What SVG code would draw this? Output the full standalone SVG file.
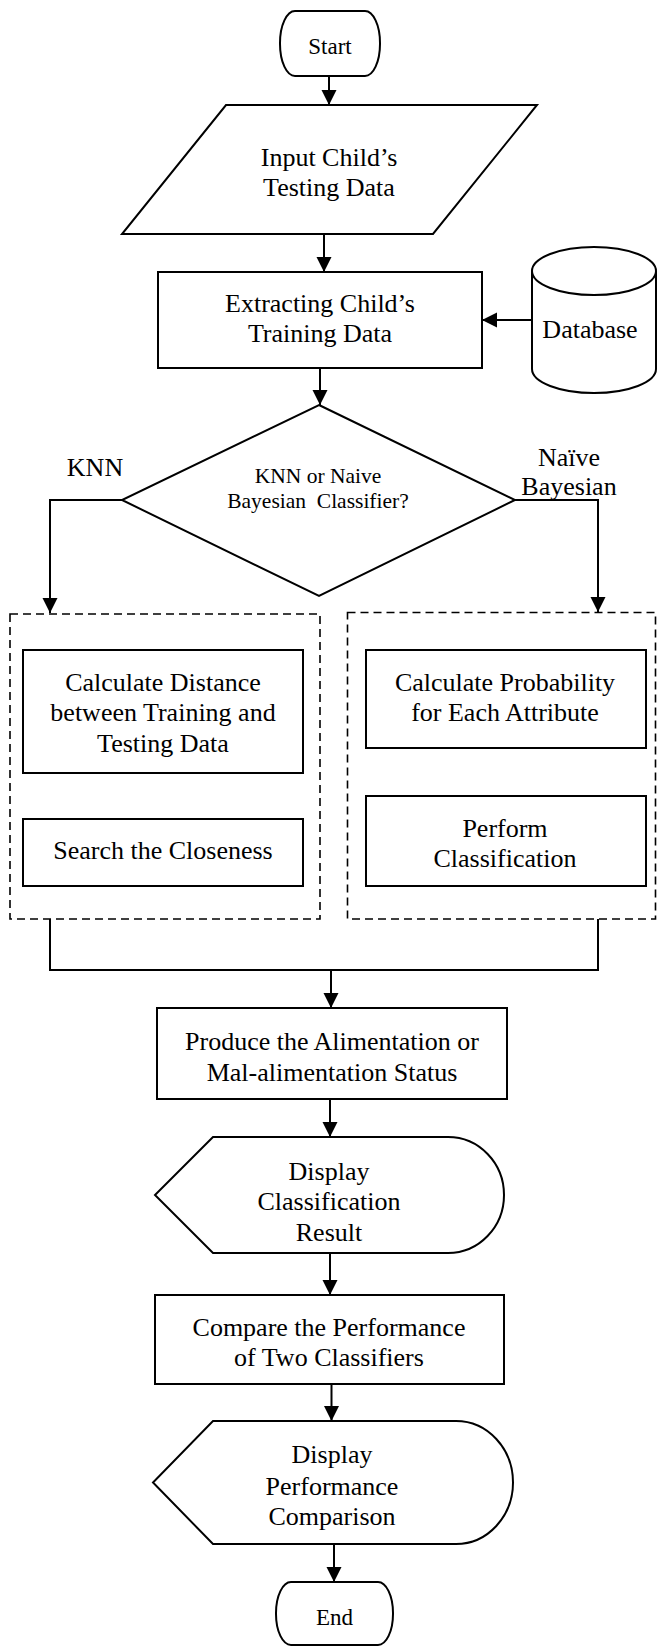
<svg xmlns="http://www.w3.org/2000/svg" width="657" height="1646" viewBox="0 0 657 1646">
  <style>
    .shape { fill: #ffffff; stroke: #000000; stroke-width: 2; }
    .group { fill: none; stroke: #000000; stroke-width: 1.6; stroke-dasharray: 8 5; }
    .wire { fill: none; stroke: #000000; stroke-width: 2; }
    .t { font-family: "Liberation Serif", "Times New Roman", serif; font-size: 26px; fill: #000000; text-anchor: middle; }
    .term { font-size: 23px; }
    .small { font-size: 21.5px; }
  </style>
  <defs>
    <marker id="arrow" markerUnits="userSpaceOnUse" markerWidth="16" markerHeight="16" refX="15" refY="7.5" orient="auto">
      <path d="M0,0 L15,7.5 L0,15 Z" fill="#000000"/>
    </marker>
  </defs>

  <rect width="657" height="1646" fill="#ffffff"/>

  <!-- dashed containers for the two classifier branches -->
  <g id="knn-group">
    <rect class="group" x="10" y="614" width="310" height="305"/>
  </g>
  <g id="nb-group">
    <rect class="group" x="347.5" y="612.5" width="308" height="306.5"/>
  </g>

  <!-- connectors -->
  <g id="connectors">
    <line class="wire" x1="329" y1="76" x2="329" y2="105" marker-end="url(#arrow)"/>
    <line class="wire" x1="324" y1="234" x2="324" y2="272" marker-end="url(#arrow)"/>
    <line class="wire" x1="320" y1="368" x2="320" y2="405" marker-end="url(#arrow)"/>
    <line class="wire" x1="532" y1="320" x2="482" y2="320" marker-end="url(#arrow)"/>
    <path class="wire" d="M122,500 H50 V613" marker-end="url(#arrow)"/>
    <path class="wire" d="M515,500 H598 V612" marker-end="url(#arrow)"/>
    <path class="wire" d="M50,919 V970 H598 V919"/>
    <line class="wire" x1="331" y1="970" x2="331" y2="1008" marker-end="url(#arrow)"/>
    <line class="wire" x1="330" y1="1099" x2="330" y2="1137" marker-end="url(#arrow)"/>
    <line class="wire" x1="330" y1="1253" x2="330" y2="1295" marker-end="url(#arrow)"/>
    <line class="wire" x1="331.5" y1="1384" x2="331.5" y2="1421" marker-end="url(#arrow)"/>
    <line class="wire" x1="334" y1="1544" x2="334" y2="1582" marker-end="url(#arrow)"/>
  </g>

  <!-- branch labels -->
  <g id="label-knn">
    <text class="t" x="95" y="476">KNN</text>
  </g>
  <g id="label-nb">
    <text class="t" x="569" y="466">Naïve</text>
    <text class="t" x="569" y="495">Bayesian</text>
  </g>

  <g id="start">
    <rect class="shape" x="280" y="11" width="100" height="65" rx="15" ry="32"/>
    <text class="t term" x="330" y="54">Start</text>
  </g>

  <g id="input">
    <polygon class="shape" points="226,105 537,105 433,234 122,234"/>
    <text class="t" x="329" y="166">Input Child’s</text>
    <text class="t" x="329" y="196">Testing Data</text>
  </g>

  <g id="extract">
    <rect class="shape" x="158" y="272" width="324" height="96"/>
    <text class="t" x="320" y="312">Extracting Child’s</text>
    <text class="t" x="320" y="342">Training Data</text>
  </g>

  <g id="database">
    <path class="shape" d="M532,271 V369 A62,24 0 0 0 656,369 V271"/>
    <ellipse class="shape" cx="594" cy="271" rx="62" ry="24"/>
    <text class="t" x="590" y="338">Database</text>
  </g>

  <g id="decision">
    <polygon class="shape" points="319,405 515,500 319,596 122,500"/>
    <text class="t small" x="318" y="483">KNN or Naive</text>
    <text class="t small" x="318" y="508" xml:space="preserve">Bayesian  Classifier?</text>
  </g>

  <g id="distance">
    <rect class="shape" x="23" y="650" width="280" height="123"/>
    <text class="t" x="163" y="691">Calculate Distance</text>
    <text class="t" x="163" y="721">between Training and</text>
    <text class="t" x="163" y="752">Testing Data</text>
  </g>

  <g id="closeness">
    <rect class="shape" x="23" y="819" width="280" height="67"/>
    <text class="t" x="163" y="859">Search the Closeness</text>
  </g>

  <g id="probability">
    <rect class="shape" x="366" y="650" width="280" height="98"/>
    <text class="t" x="505" y="691">Calculate Probability</text>
    <text class="t" x="505" y="721">for Each Attribute</text>
  </g>

  <g id="classify">
    <rect class="shape" x="366" y="796" width="280" height="90"/>
    <text class="t" x="505" y="837">Perform</text>
    <text class="t" x="505" y="867">Classification</text>
  </g>

  <g id="status">
    <rect class="shape" x="157" y="1008" width="350" height="91"/>
    <text class="t" x="332" y="1050">Produce the Alimentation or</text>
    <text class="t" x="332" y="1081">Mal-alimentation Status</text>
  </g>

  <g id="display-result">
    <path class="shape" d="M213,1137 H448 A56,58 0 0 1 448,1253 H213 L155,1195 Z"/>
    <text class="t" x="329" y="1180">Display</text>
    <text class="t" x="329" y="1210">Classification</text>
    <text class="t" x="329" y="1241">Result</text>
  </g>

  <g id="compare">
    <rect class="shape" x="155" y="1295" width="349" height="89"/>
    <text class="t" x="329" y="1336">Compare the Performance</text>
    <text class="t" x="329" y="1366">of Two Classifiers</text>
  </g>

  <g id="display-comparison">
    <path class="shape" d="M213,1421 H456 A57,61.5 0 0 1 456,1544 H213 L153,1482.5 Z"/>
    <text class="t" x="332" y="1463">Display</text>
    <text class="t" x="332" y="1495">Performance</text>
    <text class="t" x="332" y="1525">Comparison</text>
  </g>

  <g id="end">
    <rect class="shape" x="276" y="1582" width="117" height="63" rx="15" ry="31"/>
    <text class="t term" x="334.5" y="1625">End</text>
  </g>
</svg>
